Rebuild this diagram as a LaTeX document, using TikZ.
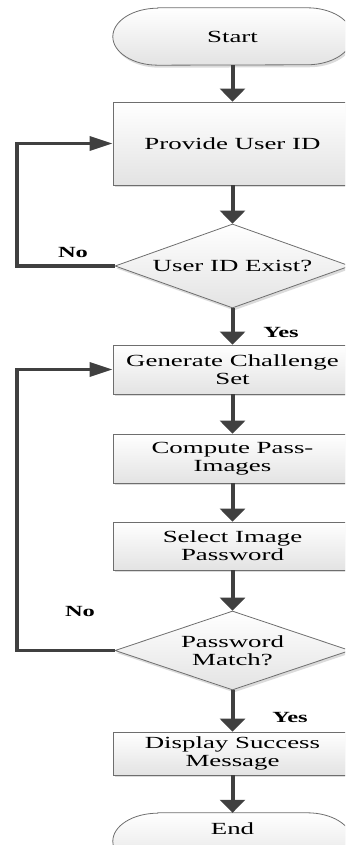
\documentclass[tikz,border=0pt]{standalone}
\usepackage{fontspec}
\setmainfont{Liberation Serif}[FakeStretch=1.58]
\usetikzlibrary{shapes.geometric,arrows.meta,shadows}
\definecolor{arrc}{HTML}{404040}
\definecolor{bordc}{HTML}{6E6E6E}
\tikzset{
  base/.style={draw=bordc, line width=0.8pt, top color=white, bottom color=black!11,
     drop shadow={shadow xshift=1.5pt, shadow yshift=-2.5pt, fill=black!14, opacity=1},
     inner sep=0pt, align=center, font=\fontsize{17}{18}\selectfont},
  procbox/.style={base, rectangle, minimum width=239pt},
  decide/.style={base, diamond, minimum width=235pt},
  arr/.style={draw=arrc, line width=4pt, -{Triangle[width=25pt,length=13pt]}},
  larr/.style={draw=arrc, line width=3.5pt, -{Triangle[width=14pt,length=23pt]}},
  lbl/.style={font=\fontsize{15.5}{18}\selectfont\bfseries, inner sep=0pt},
}
\begin{document}
\begin{tikzpicture}[x=1pt,y=1pt]
\useasboundingbox (0,0) rectangle (345,845);
\clip (0,0) rectangle (345,845);
% terminators
\node[draw=none, minimum width=239pt, minimum height=57pt, inner sep=0pt] (start) at (232.5,808.5) {};
\fill[black!14] ([shift={(46.5pt,-2.5pt)}]start.north west) -- ([shift={(-43.5pt,-2.5pt)}]start.north east)
   arc[start angle=90, end angle=-90, x radius=45pt, y radius=28.5pt]
   -- ([shift={(46.5pt,-2.5pt)}]start.south west)
   arc[start angle=270, end angle=90, x radius=45pt, y radius=28.5pt] -- cycle;
\shade[top color=white, bottom color=black!11, draw=bordc, line width=0.8pt]
   ([xshift=45pt]start.north west) -- ([xshift=-45pt]start.north east)
   arc[start angle=90, end angle=-90, x radius=45pt, y radius=28.5pt]
   -- ([xshift=45pt]start.south west)
   arc[start angle=270, end angle=90, x radius=45pt, y radius=28.5pt] -- cycle;
\node[font=\fontsize{17}{18}\selectfont] at (start.center) {Start};

\node[procbox, minimum height=83pt] (provide) at (232.5,701.5) {Provide User ID};
\node[decide, aspect=2.8, minimum height=84pt] (d1) at (232.5,579) {User ID Exist?};
\node[procbox, minimum height=49pt] (gen) at (232.5,475.5) {Generate Challenge\\Set};
\node[procbox, minimum height=49pt] (comp) at (232.5,386.5) {Compute Pass-\\Images};
\node[procbox, minimum height=48pt] (sel) at (232.5,299) {Select Image\\Password};
\node[decide, aspect=2.97, minimum height=79pt] (d2) at (232.5,194.5) {Password\\Match?};
\node[procbox, minimum height=43pt] (disp) at (232.5,91.5) {Display Success\\Message};

\node[draw=none, minimum width=239pt, minimum height=56pt, inner sep=0pt] (end) at (232.5,4) {};
\fill[black!14] ([shift={(46.5pt,-2.5pt)}]end.north west) -- ([shift={(-43.5pt,-2.5pt)}]end.north east)
   arc[start angle=90, end angle=-90, x radius=45pt, y radius=28pt]
   -- ([shift={(46.5pt,-2.5pt)}]end.south west)
   arc[start angle=270, end angle=90, x radius=45pt, y radius=28pt] -- cycle;
\shade[top color=white, bottom color=black!11, draw=bordc, line width=0.8pt]
   ([xshift=45pt]end.north west) -- ([xshift=-45pt]end.north east)
   arc[start angle=90, end angle=-90, x radius=45pt, y radius=28pt]
   -- ([xshift=45pt]end.south west)
   arc[start angle=270, end angle=90, x radius=45pt, y radius=28pt] -- cycle;
\node[font=\fontsize{17}{18}\selectfont] (endtxt) at (232.5,16) {End};

% connectors
\draw[arr] (start) -- (provide);
\draw[arr] (provide) -- (d1);
\draw[arr] (d1) -- (gen);
\draw[arr] (gen) -- (comp);
\draw[arr] (comp) -- (sel);
\draw[arr] (sel) -- (d2);
\draw[arr] (d2) -- (disp);
\draw[arr] (disp.south) -- (end.north);

\coordinate (lft) at (17,0);
\draw[larr] (d1.west) -- (d1.west -| lft) |- (provide.west);
\draw[larr] (d2.west) -- (d2.west -| lft) |- (gen.west);

% labels
\node[lbl] (no1) at (73,592) {No};
\node[lbl] (yes1) at (281,512) {Yes};
\node[lbl] (no2) at (80,233) {No};
\node[lbl] (yes2) at (290,127) {Yes};
\end{tikzpicture}
\end{document}
